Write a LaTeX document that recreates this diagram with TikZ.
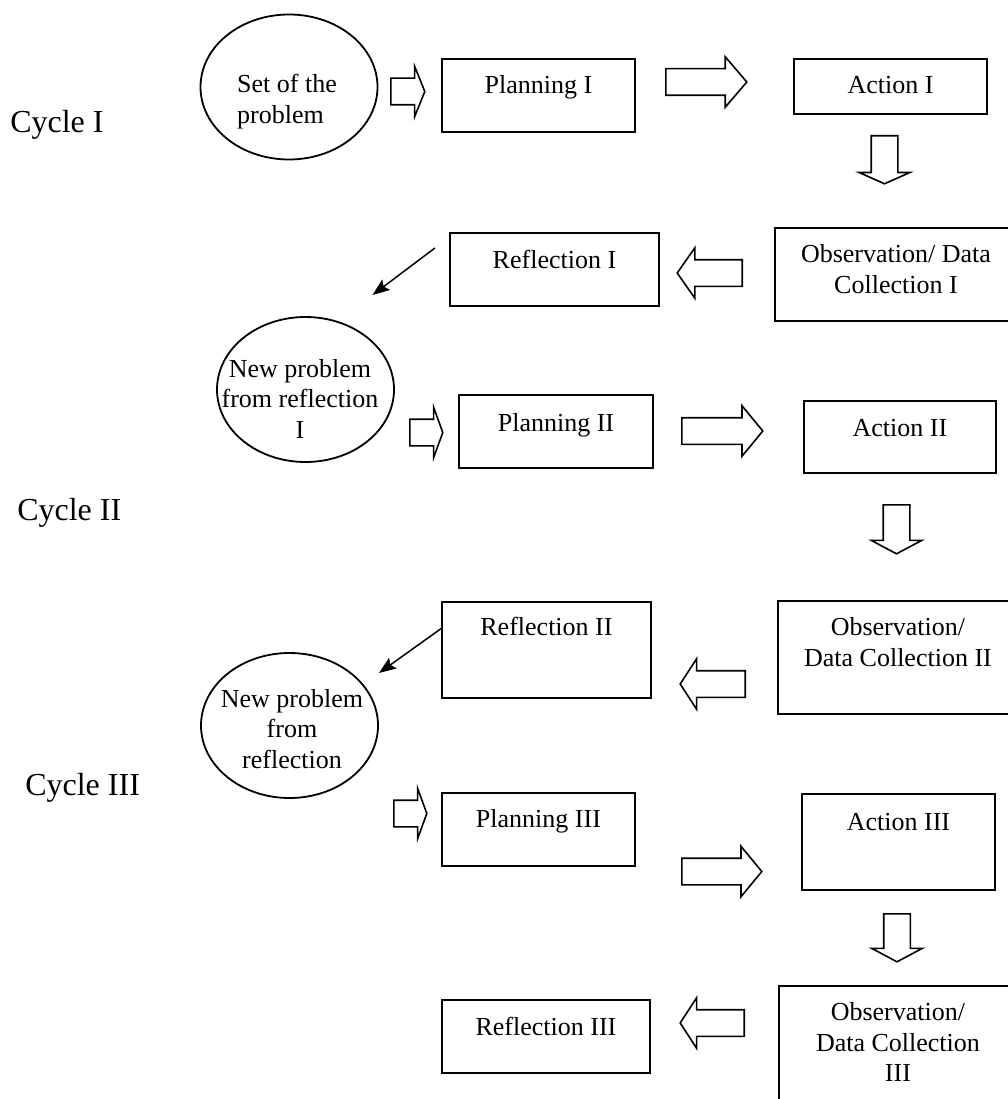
\documentclass[tikz,border=0pt]{standalone}
\usepackage{fontspec}
\setmainfont{Liberation Serif}
\usetikzlibrary{shapes,shapes.arrows,arrows.meta,positioning}

\begin{document}
\begin{tikzpicture}[x=1pt,y=-1pt,>={Stealth[length=17pt,width=13pt,inset=3pt]},
  semithick]
  \tikzstyle{every node}=[font=\fontsize{26}{30.5}\selectfont]
  \tikzstyle{stage}=[draw,rectangle,line width=1.9pt,inner sep=0pt,
    anchor=north west,align=center]
  \tikzstyle{problem}=[draw,ellipse,line width=1.8pt,inner sep=0pt,
    minimum width=177pt,minimum height=145pt]
  \tikzstyle{ptext}=[align=center,inner sep=0pt]
  \tikzstyle{cyclelabel}=[anchor=base west,inner sep=0pt,
    font=\fontsize{32}{38}\selectfont]
  \tikzstyle{fat}=[draw,single arrow,line width=1.6pt,inner xsep=0pt,
    inner ysep=12.5pt,single arrow head extend=12pt,anchor=tail]
  \tikzstyle{pointer}=[->,line width=1.5pt]

  \clip (0,0) rectangle (1008,1099);

  \node[cyclelabel] (C1) at (10,133) {Cycle I};
  \node[cyclelabel] (C2) at (17,520) {Cycle II};
  \node[cyclelabel] (C3) at (25,795) {Cycle III};

  \node[problem,label={[ptext,align=left,xshift=-2pt,yshift=-14.5pt]center:Set of the\\problem}] (N0) at (289,87) {};
  \node[problem,label={[ptext,xshift=-5.5pt,yshift=-9pt]center:New problem\\from reflection\\I}] (N1) at (305.5,389.5) {};
  \node[problem,label={[ptext,xshift=2.5pt,yshift=-3.5pt]center:New problem\\from\\reflection}] (N2) at (289.5,725.5) {};

  \node[stage,minimum width=193pt,text height=35pt,text depth=38pt] (P1) at (441,58)  {Planning I};
  \node[stage,minimum width=193pt,text height=35pt,text depth=20pt] (A1) at (793,58)  {Action I};
  \node[stage,minimum width=242pt,text height=65.5pt,text depth=27.5pt] (O1) at (774,227) {Observation/ Data\\Collection I};
  \node[stage,minimum width=209pt,text height=36pt,text depth=37pt] (R1) at (449,232) {Reflection I};
  \node[stage,minimum width=194pt,text height=37pt,text depth=36pt] (P2) at (458,394) {Planning II};
  \node[stage,minimum width=192pt,text height=36pt,text depth=36pt] (A2) at (803,400) {Action II};
  \node[stage,minimum width=240pt,text height=65.5pt,text depth=47.5pt] (O2) at (777,600) {Observation/\\Data Collection II};
  \node[stage,minimum width=209pt,text height=34pt,text depth=62pt] (R2) at (441,601) {Reflection II};
  \node[stage,minimum width=193pt,text height=35pt,text depth=38pt] (P3) at (441,792) {Planning III};
  \node[stage,minimum width=193pt,text height=37pt,text depth=59pt] (A3) at (801,793) {Action III};
  \node[stage,minimum width=238pt,text height=96pt,text depth=64pt] (O3) at (778,985) {Observation/\\Data Collection\\III};
  \node[stage,minimum width=208pt,text height=36pt,text depth=37pt] (R3) at (441,999) {Reflection III};

  % block arrows between the stages
  \node[fat,minimum height=34pt,single arrow tip angle=136] (B1) at (390,91.5) {};
  \node[fat,minimum height=81pt,single arrow tip angle=99] (B2) at (665,82) {};
  \node[fat,rotate=-90,minimum height=48pt,single arrow tip angle=132] (B3) at (884.5,135) {};
  \node[fat,rotate=180,minimum height=65pt,single arrow tip angle=110] (B4) at (743,273) {};
  \node[fat,minimum height=33pt,single arrow tip angle=140] (B5) at (409,432.5) {};
  \node[fat,minimum height=81pt,single arrow tip angle=101] (B6) at (681,431) {};
  \node[fat,rotate=-90,minimum height=49pt,single arrow tip angle=124] (B7) at (896.5,504) {};
  \node[fat,rotate=180,minimum height=65pt,single arrow tip angle=114] (B8) at (746,684) {};
  \node[fat,minimum height=33pt,single arrow tip angle=140] (B9) at (393,813.5) {};
  \node[fat,minimum height=80pt,single arrow tip angle=101] (B10) at (681,871.5) {};
  \node[fat,rotate=-90,minimum height=48pt,single arrow tip angle=124] (B11) at (897,913) {};
  \node[fat,rotate=180,minimum height=64pt,single arrow tip angle=114] (B12) at (745,1023) {};

  \draw[pointer] ([shift={(-14,-21.5)}]R1.west) -- ([shift={(67,-94.5)}]N1.center);
  \draw[pointer] ([shift={(1,-22)}]R2.west) -- ([shift={(89.5,-52.5)}]N2.center);
\end{tikzpicture}
\end{document}
